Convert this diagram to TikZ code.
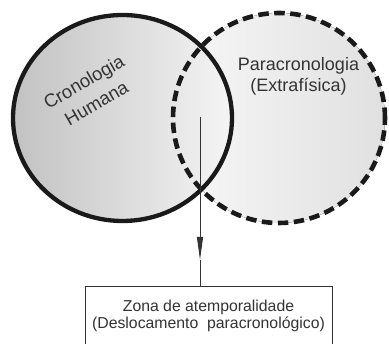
\documentclass[tikz,border=0pt]{standalone}
\usepackage{fontspec}
\setmainfont{Liberation Sans}
\usetikzlibrary{shapes.geometric,arrows.meta}
\definecolor{txt}{HTML}{333333}
\definecolor{ln}{HTML}{1A1A1A}
\tikzset{
  solidring/.style={ellipse, inner sep=0pt, draw=ln, line width=4.3pt},
  dashring/.style={ellipse, inner sep=0pt, draw=ln, line width=4.6pt, dash pattern=on 10.5pt off 5.5pt},
  lbl/.style={text=txt, align=center, inner sep=0pt},
  infobox/.style={draw=txt, line width=0.9pt, text=txt, align=center, minimum width=247pt, minimum height=60pt, inner sep=0pt, fill=white},
  pointer/.style={draw=txt, line width=0.9pt}
}
\begin{document}
\begin{tikzpicture}[x=1pt,y=1pt]
\useasboundingbox (0,0) rectangle (389,344);
\clip (0,0) rectangle (389,344);
% fills
\fill[left color=white!97!black, right color=white!88!black] (279,226) ellipse [x radius=106, y radius=105];
\fill[left color=white!76!black, right color=white!96!black] (122.5,226) ellipse [x radius=109.5, y radius=103];
% rings
\node[dashring, minimum width=212pt, minimum height=210pt] (para) at (279,226) {};
\node[solidring, minimum width=219pt, minimum height=206pt] (crono) at (122.5,226) {};
% labels
\node[lbl, font=\fontsize{18.5}{25}\selectfont, rotate=30] (cl) at (90,251.5) {Cronologia\\Humana};
\node[lbl, font=\fontsize{18}{21}\selectfont] (pl) at (298.5,268) {Paracronologia\\(Extrafísica)};
% box
\node[infobox, font=\fontsize{15.8}{17.5}\selectfont] (zona) at (208.5,28) {Zona de atemporalidade\\(Deslocamento\ \ paracronológico)};
% pointer
\coordinate (start) at (200,227);
\coordinate (tip) at (200,84);
\draw[pointer, -{Triangle[length=23pt,width=6pt]}] (start) -- (tip);
\draw[pointer] (tip) -- (tip |- zona.north);
\end{tikzpicture}
\end{document}
